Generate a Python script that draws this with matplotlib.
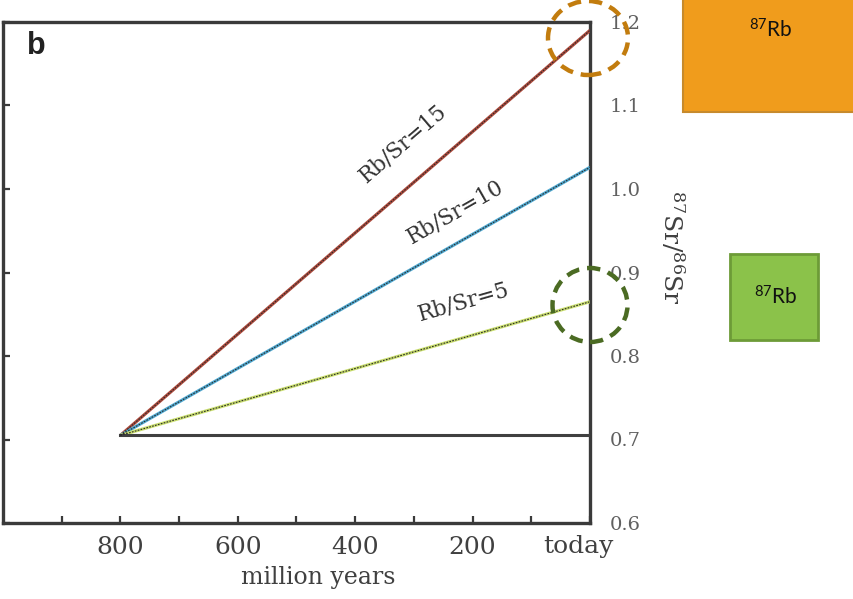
import numpy as np
import matplotlib
matplotlib.use("Agg")
import matplotlib.pyplot as plt
from matplotlib.patches import Rectangle, Ellipse
from matplotlib.transforms import ScaledTranslation

plt.rcParams['font.family'] = 'DejaVu Serif'
plt.rcParams['mathtext.default'] = 'regular'

# Sr isotope evolution: initial ratio 800 Myr ago, present-day ratio per Rb/Sr
ages = [800, 0]
initial_ratio = 0.705
rb_sr = [15, 10, 5]
present_ratio = [1.19, 1.026, 0.865]
line_colors = ['#ad4a3c', '#4fa8d0', '#c9de6e']
label_pos = [(319, 1.054), (230, 0.972), (215, 0.865)]

xtick_vals = [800, 600, 400, 200, 0]
xtick_labels = ['800', '600', '400', '200', 'today']
ytick_vals = [0.6, 0.7, 0.8, 0.9, 1.0, 1.1, 1.2]

fig = plt.figure(figsize=(8.54, 5.99), dpi=100)
ax = fig.add_axes([3/854, 76/599, 587/854, 501/599])
ax.set_xlim(1000, 0)
ax.set_ylim(0.6, 1.2)

for r, end, col, (lx, ly) in zip(rb_sr, present_ratio, line_colors, label_pos):
    ax.plot(ages, [initial_ratio, end], color=col, lw=2.3, solid_capstyle='butt', zorder=3)
    ax.plot(ages, [initial_ratio, end], color='#2b2b2b', lw=0.8, ls=(0, (1.5, 1.2)), zorder=4)
    p0 = ax.transData.transform((ages[0], initial_ratio))
    p1 = ax.transData.transform((ages[1], end))
    ang = np.degrees(np.arctan2(p1[1] - p0[1], p1[0] - p0[0]))
    ax.text(lx, ly, f'Rb/Sr={r}', rotation=ang, rotation_mode='anchor',
            ha='center', va='center', fontsize=15.5, color='#333333')

# unchanged ratio (Rb/Sr = 0)
ax.plot(ages, [initial_ratio, initial_ratio], color='#404040', lw=2.2, zorder=3)

for s in ax.spines.values():
    s.set_color('#3a3a3a')
    s.set_linewidth(2.4)

ax.set_xticks(xtick_vals)
ax.set_xticklabels(xtick_labels)
ax.set_xticks([900, 700, 500, 300, 100], minor=True)
ax.tick_params(axis='x', which='both', direction='in', length=5, width=1.6,
               color='#3a3a3a', pad=9, labelsize=18, labelcolor='#404040')
lab = ax.get_xticklabels()[-1]
lab.set_transform(lab.get_transform() + ScaledTranslation(-12/100, 0, fig.dpi_scale_trans))

ax.set_yticks(ytick_vals)
ax.set_yticklabels([f'{v:.1f}' for v in ytick_vals])
ax.tick_params(axis='y', direction='in', length=5, width=1.6, color='#3a3a3a',
               left=True, right=False, labelleft=False, labelright=True,
               pad=14, labelsize=14, labelcolor='#606060')

ax.set_xlabel('million years', fontsize=17, color='#404040')
ax.xaxis.set_label_coords(0.537, -0.085)

fig.text(672/854, 1 - 247/599, '$^{87}$Sr/$^{86}$Sr', rotation=270,
         ha='center', va='center', fontsize=18, color='#404040')

fig.text(27/854, 1 - 46/599, 'b', family='Liberation Sans', weight='bold',
         fontsize=22, ha='left', va='center', color='#222222')

# isotope boxes
fig.add_artist(Rectangle((683/854, 1 - 112/599), 180/854, 0.25,
                         transform=fig.transFigure, facecolor='#f09c1c',
                         edgecolor='#c78a2c', lw=1.5))
fig.text(771/854, 1 - 30/599, '$^{87}$Rb', family='Lato', fontsize=15,
         ha='center', va='center', color='#111111')
fig.add_artist(Rectangle((730/854, 1 - 340/599), 88/854, 86/599,
                         transform=fig.transFigure, facecolor='#8bc24a',
                         edgecolor='#6d9b37', lw=2))
fig.text(776/854, 1 - 297/599, '$^{87}$Rb', family='Lato', fontsize=15,
         ha='center', va='center', color='#111111')

# dashed highlight circles
fig.add_artist(Ellipse((588/854, 1 - 38/599), 80/854, 74/599,
                       transform=fig.transFigure, fill=False,
                       edgecolor='#c27c0e', lw=3.2, ls=(0, (3, 1.8))))
fig.add_artist(Ellipse((590/854, 1 - 305/599), 75/854, 74/599,
                       transform=fig.transFigure, fill=False,
                       edgecolor='#4b6b23', lw=3.2, ls=(0, (3, 1.8))))

fig.savefig('out.png', dpi=100)
